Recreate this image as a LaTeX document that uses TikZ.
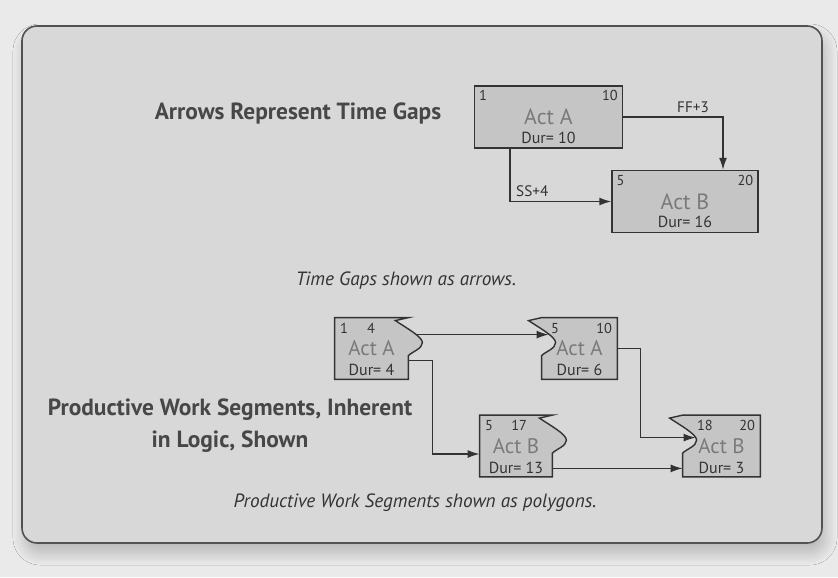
\documentclass[tikz,border=0pt]{standalone}
\usepackage{fontspec}
\setmainfont{PT Sans}
\usetikzlibrary{
  arrows.meta,
  backgrounds,
  positioning,
  shadows.blur,
}
\definecolor{pagegrey}{HTML}{EAEAEA}
\definecolor{panelgrey}{HTML}{D8D8D8}
\definecolor{boxgrey}{HTML}{C5C5C5}
\definecolor{inkgrey}{HTML}{333333}
\definecolor{actgrey}{HTML}{7A7A7A}
\tikzset{
  >={Latex[length=6pt,width=4pt]},
  num/.style={font=\fontsize{7.2}{8}\selectfont, text=inkgrey, inner sep=2.5pt},
  dur/.style={font=\fontsize{8}{9}\selectfont, text=inkgrey, inner sep=2.5pt},
  act/.style n args={3}{
    label={[num,anchor=north west]north west:#1},
    label={[num,anchor=north east]north east:#2},
    label={[dur,anchor=south]south:#3}
  },
  torn/.style={insert path={-- ++(-13,3) .. controls +(10,6.8) and +(0,-6) .. ++(27,22)
    .. controls +(0,6) and +(4,-4) .. ++(-14,13)}},
}
\begin{document}
\begin{tikzpicture}[x=0.5pt,y=-0.5pt,
    box/.style={draw=inkgrey, fill=boxgrey, line width=0.7pt, inner sep=0pt,
      minimum width=74pt, minimum height=31pt, text=actgrey,
      font=\fontsize{11}{12}\selectfont},
    seg/.style={inner sep=0pt, minimum height=30.5pt, text=actgrey,
      font=\fontsize{10.5}{12}\selectfont},
    outline/.style={draw=inkgrey, fill=boxgrey, line width=0.7pt},
    link/.style={->, draw=inkgrey, line width=0.7pt},
    lab/.style={font=\fontsize{7.6}{8}\selectfont, text=inkgrey, inner sep=2pt},
    title/.style={font=\bfseries\fontsize{11.7}{16}\selectfont, text=inkgrey!90},
    caption/.style={font=\itshape\fontsize{9.6}{11}\selectfont, text=inkgrey}
  ]
  \begin{scope}[on background layer]
    \fill[pagegrey] (0,0) rectangle (838,577);
    \draw[fill=panelgrey, draw=inkgrey!85, line width=0.8pt, rounded corners=7.5pt,
      blur shadow={shadow xshift=1.5pt, shadow yshift=-5pt, shadow blur steps=14, shadow blur radius=6pt, shadow opacity=22}]
      (22,26) rectangle (822,543);
  \end{scope}
  \useasboundingbox (0,0) rectangle (838,577);

  \node[title] (gapsTitle) at (298,113) {Arrows Represent Time Gaps};
  \node[box, act={1}{10}{Dur= 10}] (actA) at (548.5,117) {Act A};
  \node[box, act={5}{20}{Dur= 16}, minimum width=73pt] (actB) at (685,201.5) {Act B};
  \draw[link] (actA.east) -| node[lab, pos=0.35, above] {FF+3} ([shift={(38,0)}]actB.north);
  \draw[link] ([shift={(-38.5,0)}]actA.south) |- node[lab, pos=0.61, above] {SS+4} (actB.west);
  \node[caption] (gapsCaption) at (406,281) {Time Gaps shown as arrows.};

  \node[title, align=center] (segTitle) at (230,426) {Productive Work Segments, Inherent\\in Logic, Shown};
  \node[seg, minimum width=36.5pt,
    label={[num,anchor=north west]north west:1},
    label={[num,anchor=north east,xshift=-14pt]north east:4},
    label={[dur,anchor=south,inner sep=1.5pt]south:Dur= 4}] (segA1) at (371.5,348.5) {Act A};
  \node[seg, minimum width=37.5pt,
    label={[num,anchor=north west,xshift=2pt]north west:5},
    label={[num,anchor=north east]north east:10},
    label={[dur,anchor=south,inner sep=1.5pt]south:Dur= 6}] (segA2) at (579.5,348.5) {Act A};
  \node[seg, minimum width=36pt,
    label={[num,anchor=north west]north west:5},
    label={[num,anchor=north east,xshift=-10pt]north east:17},
    label={[dur,anchor=south,inner sep=1.5pt]south:Dur= 13}] (segB1) at (516,446) {Act B};
  \node[seg, minimum width=38.5pt,
    label={[num,anchor=north west,xshift=4.5pt]north west:18},
    label={[num,anchor=north east]north east:20},
    label={[dur,anchor=south,inner sep=1.5pt]south:Dur= 3}] (segB2) at (721.5,446) {Act B};
  \begin{scope}[on background layer]
    \foreach \seg in {segA1,segB1}
      \filldraw[outline] (\seg.south west) -- (\seg.north west) -- (\seg.north east) [torn] -- (\seg.south east) -- cycle;
    \foreach \seg in {segA2,segB2}
      \filldraw[outline] (\seg.south east) -- (\seg.north east) -- (\seg.north west) [torn] -- (\seg.south west) -- cycle;
  \end{scope}
  \draw[link] ([shift={(7,17)}]segA1.north east) -- ([shift={(7,17)}]segA2.north west);
  \draw[link] ([shift={(0,-19)}]segA1.south east) -- ++(24,0) |- ([shift={(0,8)}]segB1.west);
  \draw[link] (segA2.east) -- ++(23,0) |- ([shift={(13,22.5)}]segB2.north west);
  \draw[link] ([shift={(0,-8.5)}]segB1.south east) -- ([shift={(0,-8.5)}]segB2.south west);
  \node[caption] (segCaption) at (415,503) {Productive Work Segments shown as polygons.};
\end{tikzpicture}
\end{document}
